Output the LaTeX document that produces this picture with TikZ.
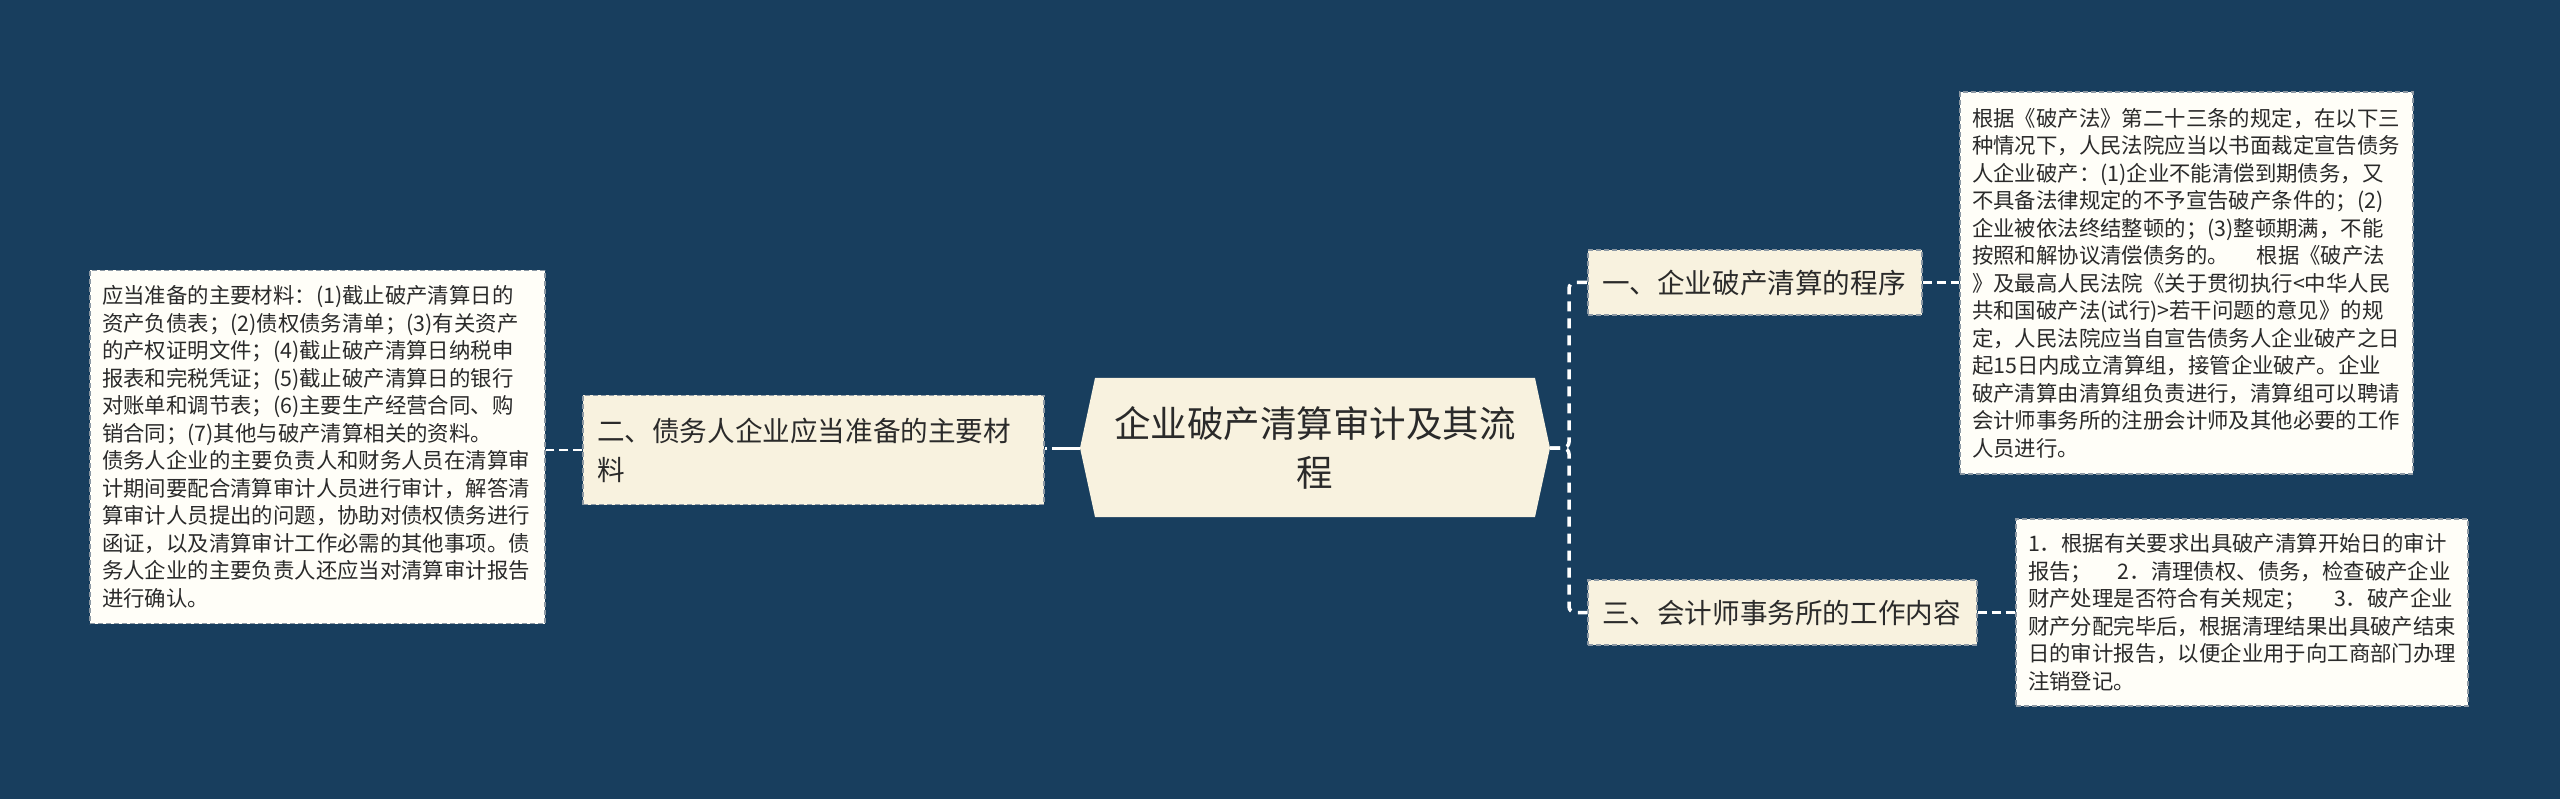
\documentclass[tikz,border=0pt]{standalone}
\usepackage{fontspec}
\setmainfont{Noto Sans CJK SC}
\usetikzlibrary{calc}
\definecolor{bg}{HTML}{183E5E}
\definecolor{cream}{HTML}{F8F2DF}
\definecolor{leaffill}{HTML}{FFFEF8}
\definecolor{txt}{HTML}{2A2A2A}
\definecolor{bord}{HTML}{8C98A3}
\begin{document}
\begin{tikzpicture}[x=1pt,y=-1pt,
  leafbox/.style={draw=bord, line width=1.2pt, dash pattern=on 5pt off 3pt,
    fill=leaffill, text=txt, align=left, inner xsep=12pt, inner ysep=0pt,
    font=\fontsize{21.4}{27.5}\selectfont, anchor=center},
  branchbox/.style={draw=bord, line width=1.2pt, dash pattern=on 5pt off 3pt,
    fill=cream, text=txt, align=left, inner xsep=14pt, inner ysep=0pt,
    font=\fontsize{27.6}{39}\selectfont, anchor=center},
  mainlink/.style={draw=white, line width=3pt, dash pattern=on 28pt off 5pt},
  rlink/.style={draw=white, line width=3.5pt, dash pattern=on 10pt off 7pt, rounded corners=6pt},
  leaflink/.style={draw=white, line width=2.2pt, dash pattern=on 9pt off 5pt}
]
\fill[bg] (0,0) rectangle (2560,799);
\useasboundingbox (0,0) rectangle (2560,799);

% central hexagon
\fill[cream] (1095,378) -- (1535,378) -- (1550,448) -- (1535,517) -- (1095,517) -- (1080,448) -- cycle;
\node[text=txt, align=center, font=\fontsize{36.5}{49}\selectfont] (c) at (1315,447.5)
  {企业破产清算审计及其流\\程};
\coordinate (cL) at (1080,448);
\coordinate (cR) at (1550,448);

% branches
\node[branchbox, text width=433pt, minimum height=109pt] (b2) at (813.5,450)
  {二、债务人企业应当准备的主要材\\料};
\node[branchbox, text width=306pt, minimum height=65pt] (b1) at (1755,282.5)
  {一、企业破产清算的程序};
\node[branchbox, text width=361pt, minimum height=65pt] (b3) at (1782.5,612.5)
  {三、会计师事务所的工作内容};

% leaves
\node[leafbox, text width=431pt, minimum height=353pt] (leafL) at (317.5,447)
  {应当准备的主要材料：(1)截止破产清算日的\\
   资产负债表；(2)债权债务清单；(3)有关资产\\
   的产权证明文件；(4)截止破产清算日纳税申\\
   报表和完税凭证；(5)截止破产清算日的银行\\
   对账单和调节表；(6)主要生产经营合同、购\\
   销合同；(7)其他与破产清算相关的资料。\\
   债务人企业的主要负责人和财务人员在清算审\\
   计期间要配合清算审计人员进行审计，解答清\\
   算审计人员提出的问题，协助对债权债务进行\\
   函证，以及清算审计工作必需的其他事项。债\\
   务人企业的主要负责人还应当对清算审计报告\\
   进行确认。};
\node[leafbox, text width=429pt, minimum height=382pt] (leafR1) at (2186.5,283)
  {根据《破产法》第二十三条的规定，在以下三\\
   种情况下，人民法院应当以书面裁定宣告债务\\
   人企业破产：(1)企业不能清偿到期债务，又\\
   不具备法律规定的不予宣告破产条件的；(2)\\
   企业被依法终结整顿的；(3)整顿期满，不能\\
   按照和解协议清偿债务的。\kern1.3em 根据《破产法\\
   》及最高人民法院《关于贯彻执行<中华人民\\
   共和国破产法(试行)>若干问题的意见》的规\\
   定，人民法院应当自宣告债务人企业破产之日\\
   起15日内成立清算组，接管企业破产。企业\\
   破产清算由清算组负责进行，清算组可以聘请\\
   会计师事务所的注册会计师及其他必要的工作\\
   人员进行。};
\node[leafbox, text width=428pt, minimum height=187pt] (leafR3) at (2242,612.5)
  {1．根据有关要求出具破产清算开始日的审计\\
   报告；\kern1.2em 2．清理债权、债务，检查破产企业\\
   财产处理是否符合有关规定；\kern1.3em 3．破产企业\\
   财产分配完毕后，根据清理结果出具破产结束\\
   日的审计报告，以便企业用于向工商部门办理\\
   注销登记。};

% connectors
\draw[mainlink] (cL) -- (cL -| b2.east);
\draw[rlink] (cR) -- ($(cR)+(19,0)$) |- (b1.west);
\draw[rlink] (cR) -- ($(cR)+(19,0)$) |- (b3.west);
\draw[leaflink] (b2.west) -- (b2.west -| leafL.east);
\draw[leaflink] (b1.east) -- (b1.east -| leafR1.west);
\draw[leaflink] (b3.east) -- (b3.east -| leafR3.west);
\end{tikzpicture}
\end{document}
